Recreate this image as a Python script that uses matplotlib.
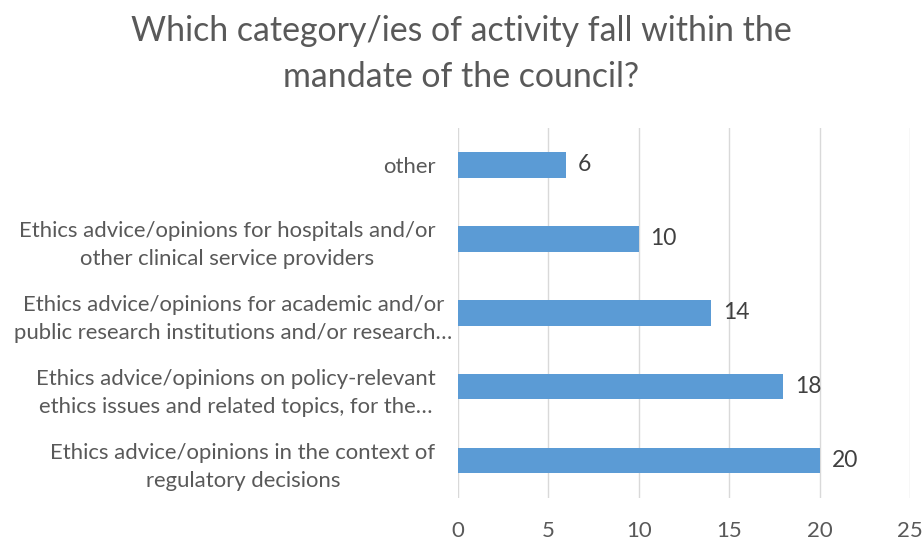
import matplotlib.pyplot as plt
from matplotlib.transforms import ScaledTranslation

plt.rcParams['font.family'] = ['Lato', 'DejaVu Sans']

# ----------------------------------------------------------------------
# Data (bottom to top, as drawn)
# ----------------------------------------------------------------------
categories = [
    "Ethics advice/opinions in the context of\nregulatory decisions",
    "Ethics advice/opinions on policy-relevant\nethics issues and related topics, for the\u2026",
    "Ethics advice/opinions for academic and/or\npublic research institutions and/or research\u2026",
    "Ethics advice/opinions for hospitals and/or\nother clinical service providers",
    "other",
]
counts = [20, 18, 14, 10, 6]
xticks = [0, 5, 10, 15, 20, 25]

title = "Which category/ies of activity fall within the\nmandate of the council?"

text_color = "#595959"
bar_color = "#5B9BD5"
grid_color = "#D9D9D9"

fig = plt.figure(figsize=(9.23, 5.40), dpi=100)
ax = fig.add_axes([0.496, 0.078, 0.490, 0.685])

y = range(len(categories))
ax.barh(y, counts, height=0.34, color=bar_color, zorder=3)

for yi, v in zip(y, counts):
    ax.text(v + 0.65, yi, str(v), va="center", ha="left",
            fontsize=16.5, color="#404040")

ax.set_xlim(0, 25)
ax.set_ylim(-0.5, len(categories) - 0.5)
ax.set_xticks(xticks)
ax.set_yticks(list(y))
ax.set_yticklabels(categories, fontsize=15.9, color=text_color,
                   linespacing=1.5, multialignment="center")
ax.tick_params(axis="x", labelsize=16, labelcolor=text_color,
               length=0, pad=17)
ax.tick_params(axis="y", length=0, pad=16)

# the long truncated label sits a little further right, as in the original
lbl = ax.get_yticklabels()[2]
lbl.set_transform(lbl.get_transform()
                  + ScaledTranslation(0.17, 0, fig.dpi_scale_trans))

ax.grid(axis="x", color=grid_color, linewidth=1, zorder=0)
for s in ax.spines.values():
    s.set_visible(False)

fig.text(0.5, 0.972, title, ha="center", va="top", fontsize=24.4,
         color=text_color, linespacing=1.55)

fig.savefig("out.png", dpi=100)
